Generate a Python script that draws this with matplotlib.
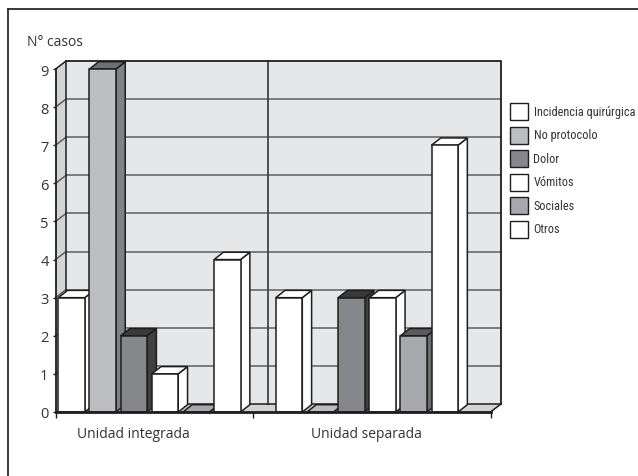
import matplotlib
matplotlib.use("Agg")
import matplotlib.pyplot as plt
from matplotlib import font_manager
from matplotlib.patches import Polygon, Rectangle
from matplotlib.lines import Line2D

# ---- data -------------------------------------------------------------
categories = ["Unidad integrada", "Unidad separada"]
series = ["Incidencia quirúrgica", "No protocolo", "Dolor", "Vómitos", "Sociales", "Otros"]
integrada = [3, 9, 2, 1, 0, 4]
separada = [3, 0, 3, 3, 2, 7]
y_ticks = [0, 1, 2, 3, 4, 5, 6, 7, 8, 9]
y_label = "N° casos"

# ---- styling ----------------------------------------------------------
# (front, top, side) shades for every series
shades = [
    ("#ffffff", "#ffffff", "#ffffff"),
    ("#bdbec1", "#6f7072", "#808184"),
    ("#86878a", "#3a3a3b", "#404041"),
    ("#ffffff", "#ffffff", "#ffffff"),
    ("#a7a8ab", "#5a5a5c", "#6c6c6e"),
    ("#ffffff", "#ffffff", "#ffffff"),
]
TXT = "#333333"
EDGE = "#1e1e1e"
WALL = "#e6e7e9"
SIDE = "#d3d4d6"
GRID = "#5e5e60"

FONT = ["Open Sans", "DejaVu Sans"]
plt.rcParams["font.family"] = FONT


def narrow_font():
    """Pick a condensed face for the legend, if one is installed."""
    fl = font_manager.fontManager.ttflist
    names = {f.name for f in fl}
    for n in ["Liberation Sans Narrow", "Roboto Condensed", "Open Sans Condensed",
              "Noto Sans Condensed", "DejaVu Sans Condensed"]:
        if n in names:
            return dict(family=[n, "DejaVu Sans"], fontsize=8.8)
    for f in fl:
        st = str(f.stretch).lower()
        if st in ("condensed", "semi-condensed", "extra-condensed") or \
                (isinstance(f.stretch, int) and f.stretch < 500):
            return dict(family=[f.name, "DejaVu Sans"], fontstretch=f.stretch, fontsize=8.8)
    return dict(family=["Roboto", "DejaVu Sans"], fontsize=8.5)


LEG_FONT = narrow_font()

W, H = 638, 477
fig = plt.figure(figsize=(W / 100, H / 100), dpi=100)

# plot box in pixels (front axis origin, unit sizes, depth)
x0_px, y0_px = 55.5, 413.0
px_per_cat = 217.5
px_per_val = 38.11
wall_dx_px, wall_dy_px = 10.5, 8.0
DX = wall_dx_px / px_per_cat
DY = wall_dy_px / px_per_val
YMAX = 9
ax_w = (2 * px_per_cat + wall_dx_px)
ax_h = (YMAX * px_per_val + wall_dy_px)
ax = fig.add_axes([x0_px / W, 1 - y0_px / H, ax_w / W, ax_h / H])
ax.set_xlim(0, 2 + DX)
ax.set_ylim(0, YMAX + DY)
for s in ax.spines.values():
    s.set_visible(False)
ax.patch.set_visible(False)

# bar geometry in category units
bar_w = 26.5 / px_per_cat
pitch = 31.15 / px_per_cat
group_start = 2.8 / px_per_cat
bdx = 9.3 / px_per_cat
bdy = 7.3 / px_per_val
divider_back = 0.929
cat_sep_tick = 0.907
label_pos = [0.356, 1.43]

lw = 1.1

# back wall, side wall and floor
ax.add_patch(Polygon([(DX, DY), (2 + DX, DY), (2 + DX, YMAX + DY), (DX, YMAX + DY)],
                     closed=True, facecolor=WALL, edgecolor="none", zorder=1))
ax.add_patch(Polygon([(0, 0), (DX, DY), (DX, YMAX + DY), (0, YMAX)],
                     closed=True, facecolor=SIDE, edgecolor="none", zorder=1))
ax.add_patch(Polygon([(0, 0), (2, 0), (2 + DX, DY), (DX, DY)],
                     closed=True, facecolor=SIDE, edgecolor="none", zorder=1))
for k in y_ticks[1:-1]:
    ax.plot([DX, 2 + DX], [k + DY, k + DY], color=GRID, lw=lw, zorder=2, clip_on=False)
    ax.plot([0, DX], [k, k + DY], color=GRID, lw=lw, zorder=2, clip_on=False)
ax.plot([DX + divider_back] * 2, [DY, YMAX + DY], color="#444446", lw=1.3, zorder=2, clip_on=False)
# wall outlines
ax.plot([DX, 2 + DX, 2 + DX], [YMAX + DY, YMAX + DY, DY], color=EDGE, lw=1.3, zorder=2, clip_on=False)
ax.plot([0, DX, DX], [YMAX, YMAX + DY, DY], color=EDGE, lw=lw, zorder=2, clip_on=False)
ax.plot([DX, 2 + DX], [DY, DY], color=EDGE, lw=lw, zorder=2, clip_on=False)
ax.plot([2, 2 + DX], [0, DY], color=EDGE, lw=lw, zorder=2, clip_on=False)


def bar3d(x, v, cols, z):
    front, top, side = cols
    fc_top = top if v > 0 else front
    ax.add_patch(Polygon([(x + bar_w, 0), (x + bar_w + bdx, bdy),
                          (x + bar_w + bdx, v + bdy), (x + bar_w, v)],
                         closed=True, facecolor=side, edgecolor=EDGE, lw=lw, zorder=z, clip_on=False))
    ax.add_patch(Polygon([(x, v), (x + bar_w, v), (x + bar_w + bdx, v + bdy), (x + bdx, v + bdy)],
                         closed=True, facecolor=fc_top, edgecolor=EDGE, lw=lw, zorder=z, clip_on=False))
    if v > 0:
        ax.add_patch(Rectangle((x, 0), bar_w, v, facecolor=front, edgecolor=EDGE,
                               lw=lw, zorder=z, clip_on=False))


z = 3
for ci, vals in enumerate([integrada, separada]):
    for si, v in enumerate(vals):
        x = ci + group_start + si * pitch
        bar3d(x, v, shades[si], z)
        z += 0.01

# front axis lines
ax.plot([0, 0], [0, YMAX], color=EDGE, lw=1.3, zorder=10, clip_on=False)
ax.plot([0, 2], [0, 0], color=EDGE, lw=2.0, zorder=10, clip_on=False)

# y ticks
ax.set_yticks(y_ticks)
ax.set_yticklabels([str(t) for t in y_ticks])
ax.tick_params(axis="y", length=3.5 * 0.72, width=1.0, color=EDGE, pad=2.5,
               labelsize=10.5, labelcolor=TXT)

# x ticks: separators as minor ticks, names as major ticks
ax.set_xticks(label_pos)
ax.set_xticklabels(categories)
ax.set_xticks([0, cat_sep_tick, 2], minor=True)
ax.tick_params(axis="x", which="major", length=0, pad=10, labelsize=10, labelcolor=TXT)
ax.tick_params(axis="x", which="minor", length=6 * 0.72, width=1.0, color=EDGE)

# axis title
fig.text(27 / W, 1 - 43 / H, y_label, fontsize=10, color=TXT, va="center", ha="left")

# legend
leg_x, leg_y0, leg_step = 509.5, 112.5, 23.5
box_w, box_h = 18, 17
for i, name in enumerate(series):
    cy = leg_y0 + i * leg_step
    fig.add_artist(Rectangle(((leg_x) / W, 1 - (cy + box_h / 2) / H), box_w / W, box_h / H,
                             facecolor=shades[i][0], edgecolor=EDGE, lw=1.0,
                             transform=fig.transFigure))
    fig.text(533.5 / W, 1 - cy / H, name, color=TXT, va="center", ha="left", **LEG_FONT)

# frame around the figure (left and top edges)
fig.add_artist(Line2D([8 / W, 8 / W], [0, 1 - 9.5 / H], color="#2a2a2a", lw=1.3,
                      transform=fig.transFigure))
fig.add_artist(Line2D([8 / W, 1], [1 - 9.5 / H, 1 - 9.5 / H], color="#2a2a2a", lw=1.3,
                      transform=fig.transFigure))

fig.savefig("out.png", dpi=100)
